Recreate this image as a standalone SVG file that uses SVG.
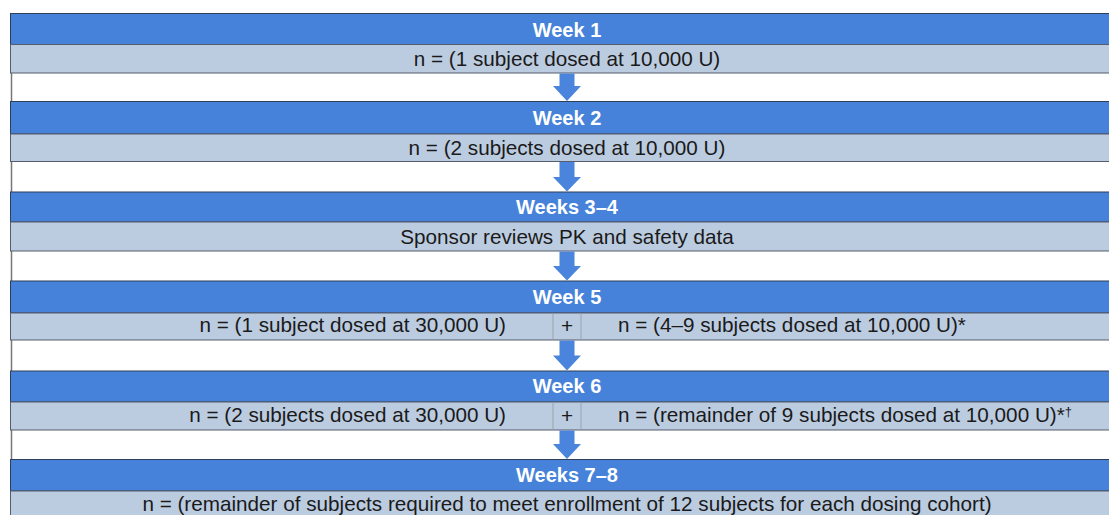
<svg xmlns="http://www.w3.org/2000/svg" width="1109" height="515" viewBox="0 0 1109 515">
<style>
.hd{fill:#4682da;stroke:#2f3f5a;stroke-width:1}
.lt{fill:#bccce0;stroke:#555d6a;stroke-width:1}
.ht{font-family:"Liberation Sans",Arial,sans-serif;font-size:20px;font-weight:bold;fill:#ffffff;text-anchor:middle}
.tx{font-family:"Liberation Sans",Arial,sans-serif;font-size:20.7px;fill:#1a1a1a}
.c{text-anchor:middle}
.e{text-anchor:end}
.div{stroke:#9aa3b0;stroke-width:1}
.arr{fill:#4a84dc}
</style>
<rect x="0" y="0" width="1109" height="515" fill="#ffffff"/>
<line x1="11.5" y1="13" x2="11.5" y2="515" stroke="#777777" stroke-width="1.5"/>
<g id="week1">
<rect class="hd" x="10.5" y="13.5" width="1120" height="31"/>
<rect class="lt" x="10.5" y="44.5" width="1120" height="28.5"/>
<text class="ht" x="567" y="37">Week 1</text>
<text class="tx c" x="567" y="66">n = (1 subject dosed at 10,000 U)</text>
</g>
<g id="week2">
<rect class="hd" x="10.5" y="101.5" width="1120" height="32.5"/>
<rect class="lt" x="10.5" y="134" width="1120" height="27.5"/>
<text class="ht" x="567" y="125">Week 2</text>
<text class="tx c" x="567" y="155">n = (2 subjects dosed at 10,000 U)</text>
</g>
<g id="week3-4">
<rect class="hd" x="10.5" y="192" width="1120" height="30"/>
<rect class="lt" x="10.5" y="222" width="1120" height="29"/>
<text class="ht" x="567" y="214">Weeks 3–4</text>
<text class="tx c" x="567" y="244">Sponsor reviews PK and safety data</text>
</g>
<g id="week5">
<rect class="hd" x="10.5" y="281" width="1120" height="32"/>
<rect class="lt" x="10.5" y="313" width="1120" height="27"/>
<line class="div" x1="553" y1="313.5" x2="553" y2="339.5"/>
<line class="div" x1="581" y1="313.5" x2="581" y2="339.5"/>
<text class="ht" x="567" y="304">Week 5</text>
<text class="tx e" x="506" y="332">n = (1 subject dosed at 30,000 U)</text>
<text class="tx c" x="567" y="333" font-size="22">+</text>
<text class="tx" x="618" y="332">n = (4–9 subjects dosed at 10,000 U)*</text>
</g>
<g id="week6">
<rect class="hd" x="10.5" y="371" width="1120" height="31"/>
<rect class="lt" x="10.5" y="402" width="1120" height="28"/>
<line class="div" x1="553" y1="402.5" x2="553" y2="429.5"/>
<line class="div" x1="581" y1="402.5" x2="581" y2="429.5"/>
<text class="ht" x="567" y="393">Week 6</text>
<text class="tx e" x="506" y="422">n = (2 subjects dosed at 30,000 U)</text>
<text class="tx c" x="567" y="423" font-size="22">+</text>
<text class="tx" x="618" y="422">n = (remainder of 9 subjects dosed at 10,000 U)*<tspan font-size="13" dy="-6">†</tspan></text>
</g>
<g id="week7-8">
<rect class="hd" x="10.5" y="459.5" width="1120" height="31.5"/>
<rect class="lt" x="10.5" y="491" width="1120" height="30"/>
<text class="ht" x="567" y="482">Weeks 7–8</text>
<text class="tx c" x="567" y="511">n = (remainder of subjects required to meet enrollment of 12 subjects for each dosing cohort)</text>
</g>
<g id="connectors">
<polygon class="arr" points="559.5,73.5 574.5,73.5 574.5,86 581,86 567,101 553,86 559.5,86"/>
<polygon class="arr" points="559.5,162 574.5,162 574.5,177 581,177 567,191.5 553,177 559.5,177"/>
<polygon class="arr" points="559.5,251.5 574.5,251.5 574.5,266 581,266 567,280.5 553,266 559.5,266"/>
<polygon class="arr" points="559.5,340.5 574.5,340.5 574.5,355.5 581,355.5 567,370.5 553,355.5 559.5,355.5"/>
<polygon class="arr" points="559.5,430.5 574.5,430.5 574.5,444 581,444 567,459 553,444 559.5,444"/>
</g>
</svg>
